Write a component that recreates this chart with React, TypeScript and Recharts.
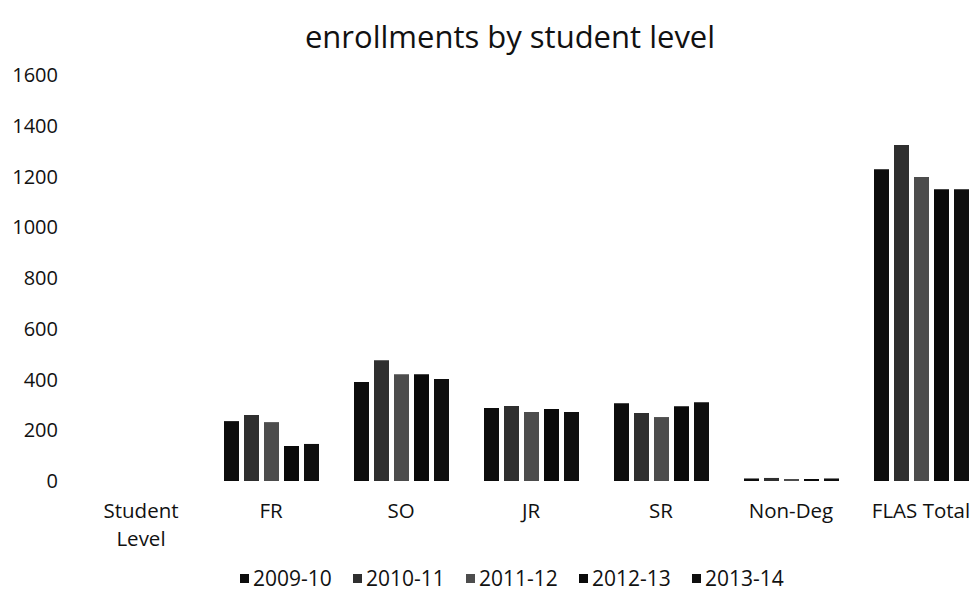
import React from "react";
import { BarChart, Bar, XAxis, YAxis } from "recharts";

const categories = ["Student Level", "FR", "SO", "JR", "SR", "Non-Deg", "FLAS Total"];
const seriesNames = ["2009-10", "2010-11", "2011-12", "2012-13", "2013-14"];
const s2009 = [null, 236, 390, 288, 306, 10, 1229];
const s2010 = [null, 260, 476, 296, 268, 12, 1324];
const s2011 = [null, 232, 421, 272, 252, 8, 1198];
const s2012 = [null, 138, 421, 284, 295, 8, 1150];
const s2013 = [null, 146, 402, 272, 310, 10, 1150];
const yTicks = [0, 200, 400, 600, 800, 1000, 1200, 1400, 1600];
const colors = ["#0d0d0d", "#2f2f2f", "#4d4d4d", "#0a0a0a", "#0f0f0f"];

const seriesValues = [s2009, s2010, s2011, s2012, s2013];
const data = categories.map((c, i) => {
  const row: any = { name: c };
  seriesNames.forEach((s, j) => {
    row[s] = seriesValues[j][i];
  });
  return row;
});

const FONT = "'Open Sans', sans-serif";

const XTick = (props: any) => {
  const { x, y, payload } = props;
  const words = String(payload.value) === "Student Level" ? ["Student", "Level"] : [String(payload.value)];
  return (
    <g>
      {words.map((w, i) => (
        <text key={i} x={x} y={y + 37 + i * 28} textAnchor="middle" fontFamily={FONT} fontSize={20.5} fill="#111">
          {w}
        </text>
      ))}
    </g>
  );
};

export default function App() {
  return (
    <div style={{ position: "absolute", left: 0, top: 0, width: 972, height: 611, overflow: "hidden", background: "#fff" }}>
      <div
        style={{
          position: "absolute",
          left: 0,
          top: 15,
          width: 1020,
          textAlign: "center",
          fontFamily: FONT,
          fontSize: 31,
          color: "#111",
        }}
      >
        enrollments by student level
      </div>
      <div style={{ position: "absolute", left: 0, top: 0 }}>
        <BarChart
          width={986}
          height={611}
          data={data}
          margin={{ top: 75, right: 0, bottom: 70, left: 0 }}
          barSize={15}
          barGap={5}
        >
          <YAxis
            width={76}
            domain={[0, 1600]}
            ticks={yTicks}
            axisLine={false}
            tickLine={false}
            tickSize={0}
            tickMargin={18}
            interval={0}
            tick={{ fontFamily: FONT, fontSize: 20, fill: "#111" }}
          />
          <XAxis
            dataKey="name"
            height={60}
            axisLine={false}
            tickLine={false}
            tickSize={0}
            tickMargin={0}
            interval={0}
            tick={<XTick />}
          />
          {seriesNames.map((s, j) => (
            <Bar key={s} dataKey={s} fill={colors[j]} isAnimationActive={false} />
          ))}
        </BarChart>
      </div>
      <div
        style={{
          position: "absolute",
          left: 240,
          top: 564,
          display: "flex",
          fontFamily: FONT,
          fontSize: 21,
          color: "#111",
        }}
      >
        {seriesNames.map((s, j) => (
          <div key={s} style={{ display: "flex", alignItems: "center", width: 113 }}>
            <span style={{ display: "inline-block", width: 9, height: 9, background: colors[j], marginRight: 4 }} />
            <span>{s}</span>
          </div>
        ))}
      </div>
    </div>
  );
}
